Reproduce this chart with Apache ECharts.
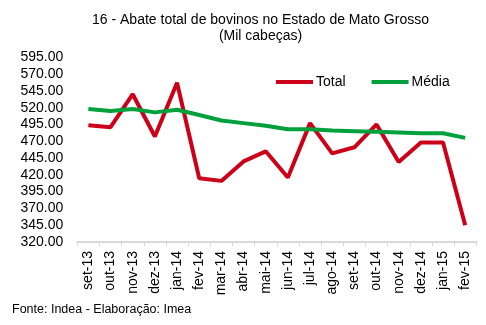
<!DOCTYPE html>
<html>
<head>
<meta charset="utf-8">
<script src="https://cdn.jsdelivr.net/npm/echarts@6/dist/echarts.min.js"></script>
<style>
html,body{margin:0;padding:0;background:#fff;}
#c{width:486px;height:325px;}
</style>
</head>
<body>
<div id="c"></div>
<script>
const categories = ['set-13','out-13','nov-13','dez-13','jan-14','fev-14','mar-14','abr-14','mai-14','jun-14','jul-14','ago-14','set-14','out-14','nov-14','dez-14','jan-15','fev-15'];
const totalValues = [494, 491, 540, 477, 557, 415, 411, 440, 455, 416, 497, 452, 461, 495, 439, 468, 468, 345];
const mediaValues = [518, 515, 518, 513, 517, 509, 501, 497, 493, 488, 488, 486, 485, 484, 483, 482, 482, 475];
const yTicks = [320, 345, 370, 395, 420, 445, 470, 495, 520, 545, 570, 595];
const titleLines = ['16 - Abate total de bovinos no Estado de Mato Grosso', '(Mil cabeças)'];

const FONT = 'Liberation Sans, Arial, sans-serif';
const chart = echarts.init(document.getElementById('c'), null, {renderer: 'canvas'});
chart.setOption({
  animation: false,
  backgroundColor: '#ffffff',
  textStyle: {fontFamily: FONT},
  legend: {
    left: 276, top: 75, padding: 0,
    itemWidth: 37, itemHeight: 4, itemGap: 26,
    icon: 'rect',
    textStyle: {fontFamily: FONT, fontSize: 14, color: '#000', padding: [0, 0, 0, -2]},
    data: ['Total', 'Média']
  },
  graphic: [
    {type: 'text', x: 260.5, y: 20,
     style: {text: titleLines[0], font: '14px ' + FONT, fill: '#000', align: 'center', verticalAlign: 'middle'}},
    {type: 'text', x: 260.5, y: 36,
     style: {text: titleLines[1], font: '14px ' + FONT, fill: '#000', align: 'center', verticalAlign: 'middle'}},
    {type: 'text', x: 12, y: 310,
     style: {text: 'Fonte: Indea - Elaboração: Imea', font: '12.5px ' + FONT, fill: '#000', align: 'left', verticalAlign: 'middle'}}
  ],
  grid: {left: 77.3, right: 9.7, top: 57.3, bottom: 83, containLabel: false},
  xAxis: {
    type: 'category',
    data: categories,
    boundaryGap: true,
    axisLine: {lineStyle: {color: '#d9d9d9', width: 2}},
    axisTick: {show: true, interval: 0, length: 4, lineStyle: {color: '#d9d9d9', width: 1}},
    axisLabel: {rotate: 90, interval: 0, margin: 9, fontFamily: FONT, fontSize: 14, color: '#000'}
  },
  yAxis: {
    type: 'value',
    min: 320, max: 595,
    axisLine: {show: false},
    axisTick: {show: false},
    splitLine: {show: false},
    axisLabel: {
      customValues: yTicks,
      margin: 14,
      fontFamily: FONT, fontSize: 14, color: '#000',
      formatter: v => Number(v).toFixed(2)
    }
  },
  series: [
    {name: 'Total', type: 'line', data: totalValues, symbol: 'none', color: '#cc0018',
     lineStyle: {width: 4, color: '#cc0018'}},
    {name: 'Média', type: 'line', data: mediaValues, symbol: 'none', color: '#00a03c',
     lineStyle: {width: 4, color: '#00a03c'}}
  ]
});
</script>
</body>
</html>
